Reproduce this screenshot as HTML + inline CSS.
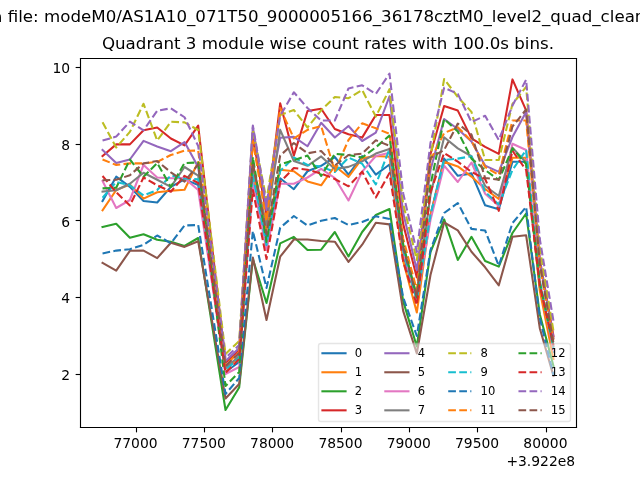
<!DOCTYPE html>
<html><head><meta charset="utf-8"><title>plot</title>
<style>html,body{margin:0;padding:0;background:#fff;overflow:hidden}svg{display:block;will-change:transform}text{font-family:"DejaVu Sans","Liberation Sans",sans-serif}</style>
</head><body>
<svg  width="640" height="480" viewBox="0 0 460.8 345.6" version="1.1">
 
 <defs>
  <style type="text/css">*{stroke-linejoin: round; stroke-linecap: butt}</style>
 </defs>
 <g id="figure_1">
  <g id="patch_1">
   <path d="M 0 345.6 
L 460.8 345.6 
L 460.8 0 
L 0 0 
z
" style="fill: #ffffff"/>
  </g>
  <g id="axes_1">
   <g id="patch_2">
    <path d="M 57.6 307.584 
L 414.72 307.584 
L 414.72 41.472 
L 57.6 41.472 
z
" style="fill: #ffffff"/>
   </g>
   <g id="matplotlib.axis_1">
    <g id="xtick_1">
     <g id="line2d_1">
      
      <g>
       <path d="M 98.2800 307.8000 l 0 3.5" style="fill: none; stroke: #000000; stroke-width: 0.8"/>
      </g>
     </g>
     <g id="text_1">
      <text style="font-size: 10px; font-family: 'DejaVu Sans', sans-serif; text-anchor: middle" x="97.5598" y="322.9024">77000</text>
     </g>
    </g>
    <g id="xtick_2">
     <g id="line2d_2">
      <g>
       <path d="M 147.2400 307.8000 l 0 3.5" style="fill: none; stroke: #000000; stroke-width: 0.8"/>
      </g>
     </g>
     <g id="text_2">
      <text style="font-size: 10px; font-family: 'DejaVu Sans', sans-serif; text-anchor: middle" x="146.7498" y="322.9024">77500</text>
     </g>
    </g>
    <g id="xtick_3">
     <g id="line2d_3">
      <g>
       <path d="M 196.2000 307.8000 l 0 3.5" style="fill: none; stroke: #000000; stroke-width: 0.8"/>
      </g>
     </g>
     <g id="text_3">
      <text style="font-size: 10px; font-family: 'DejaVu Sans', sans-serif; text-anchor: middle" x="195.9399" y="322.9024">78000</text>
     </g>
    </g>
    <g id="xtick_4">
     <g id="line2d_4">
      <g>
       <path d="M 245.8800 307.8000 l 0 3.5" style="fill: none; stroke: #000000; stroke-width: 0.8"/>
      </g>
     </g>
     <g id="text_4">
      <text style="font-size: 10px; font-family: 'DejaVu Sans', sans-serif; text-anchor: middle" x="245.1300" y="322.9024">78500</text>
     </g>
    </g>
    <g id="xtick_5">
     <g id="line2d_5">
      <g>
       <path d="M 294.8400 307.8000 l 0 3.5" style="fill: none; stroke: #000000; stroke-width: 0.8"/>
      </g>
     </g>
     <g id="text_5">
      <text style="font-size: 10px; font-family: 'DejaVu Sans', sans-serif; text-anchor: middle" x="294.3201" y="322.9024">79000</text>
     </g>
    </g>
    <g id="xtick_6">
     <g id="line2d_6">
      <g>
       <path d="M 343.8000 307.8000 l 0 3.5" style="fill: none; stroke: #000000; stroke-width: 0.8"/>
      </g>
     </g>
     <g id="text_6">
      <text style="font-size: 10px; font-family: 'DejaVu Sans', sans-serif; text-anchor: middle" x="343.5102" y="322.9024">79500</text>
     </g>
    </g>
    <g id="xtick_7">
     <g id="line2d_7">
      <g>
       <path d="M 393.4800 307.8000 l 0 3.5" style="fill: none; stroke: #000000; stroke-width: 0.8"/>
      </g>
     </g>
     <g id="text_7">
      <text style="font-size: 10px; font-family: 'DejaVu Sans', sans-serif; text-anchor: middle" x="392.7003" y="322.9024">80000</text>
     </g>
    </g>
    <g id="text_8">
     <text style="font-size: 10px; font-family: 'DejaVu Sans', sans-serif; text-anchor: end" x="414.0720" y="335.5806">+3.922e8</text>
    </g>
   </g>
   <g id="matplotlib.axis_2">
    <g id="ytick_1">
     <g id="line2d_8">
      
      <g>
       <path d="M 57.9600 269.6400 l -3.5 0" style="fill: none; stroke: #000000; stroke-width: 0.8"/>
      </g>
     </g>
     <g id="text_9">
      <text style="font-size: 10px; font-family: 'DejaVu Sans', sans-serif; text-anchor: end" x="50.5280" y="273.6552">2</text>
     </g>
    </g>
    <g id="ytick_2">
     <g id="line2d_9">
      <g>
       <path d="M 57.9600 214.2000 l -3.5 0" style="fill: none; stroke: #000000; stroke-width: 0.8"/>
      </g>
     </g>
     <g id="text_10">
      <text style="font-size: 10px; font-family: 'DejaVu Sans', sans-serif; text-anchor: end" x="50.5280" y="218.3952">4</text>
     </g>
    </g>
    <g id="ytick_3">
     <g id="line2d_10">
      <g>
       <path d="M 57.9600 158.7600 l -3.5 0" style="fill: none; stroke: #000000; stroke-width: 0.8"/>
      </g>
     </g>
     <g id="text_11">
      <text style="font-size: 10px; font-family: 'DejaVu Sans', sans-serif; text-anchor: end" x="50.5280" y="163.1352">6</text>
     </g>
    </g>
    <g id="ytick_4">
     <g id="line2d_11">
      <g>
       <path d="M 57.9600 104.0400 l -3.5 0" style="fill: none; stroke: #000000; stroke-width: 0.8"/>
      </g>
     </g>
     <g id="text_12">
      <text style="font-size: 10px; font-family: 'DejaVu Sans', sans-serif; text-anchor: end" x="50.5280" y="107.8752">8</text>
     </g>
    </g>
    <g id="ytick_5">
     <g id="line2d_12">
      <g>
       <path d="M 57.9600 48.6000 l -3.5 0" style="fill: none; stroke: #000000; stroke-width: 0.8"/>
      </g>
     </g>
     <g id="text_13">
      <text style="font-size: 10px; font-family: 'DejaVu Sans', sans-serif; text-anchor: end" x="50.5280" y="52.6152">10</text>
     </g>
    </g>
   </g>
   <g id="line2d_13">
    <path d="M 73.832727 144.72 
L 83.670744 127.224 
L 93.50876 134.568 
L 103.346777 144.72 
L 113.184793 145.8 
L 123.02281 134.568 
L 132.860826 129.168 
L 142.698843 133.2 
L 162.374876 267.84 
L 172.212893 260.64 
L 182.050909 129.6 
L 191.888926 172.8 
L 201.726942 128.376 
L 211.564959 136.224 
L 221.402975 123.3 
L 231.240992 119.376 
L 241.079008 113.04 
L 250.917025 125.784 
L 260.755041 112.32 
L 270.593058 125.784 
L 280.431074 118.44 
L 290.269091 183.8052 
L 300.107107 216 
L 309.945124 154.8 
L 319.78314 114.192 
L 329.621157 126.576 
L 339.459174 124.848 
L 349.29719 147.816 
L 359.135207 150.624 
L 368.973223 116.424 
L 378.81124 116.424 
L 388.649256 206.85456 
L 398.487273 253.44 
" clip-path="url(#p02d3b5d28d)" style="fill: none; stroke: #1f77b4; stroke-width: 1.5; stroke-linecap: square"/>
   </g>
   <g id="line2d_14">
    <path d="M 73.832727 151.416 
L 83.670744 136.8 
L 93.50876 132.84 
L 103.346777 142.992 
L 113.184793 138.456 
L 123.02281 137.376 
L 132.860826 136.584 
L 142.698843 116.64 
L 162.374876 265.68 
L 172.212893 257.04 
L 182.050909 123.84 
L 191.888926 165.6 
L 201.726942 122.184 
L 211.564959 123.3 
L 221.402975 130.608 
L 231.240992 133.416 
L 241.079008 119.52 
L 250.917025 127.44 
L 260.755041 113.976 
L 270.593058 112.32 
L 280.431074 112.824 
L 290.269091 187.98192 
L 300.107107 225 
L 309.945124 154.8 
L 319.78314 116.424 
L 329.621157 119.808 
L 339.459174 127.152 
L 349.29719 136.08 
L 359.135207 143.28 
L 368.973223 113.616 
L 378.81124 113.616 
L 388.649256 209.22624 
L 398.487273 258.48 
" clip-path="url(#p02d3b5d28d)" style="fill: none; stroke: #ff7f0e; stroke-width: 1.5; stroke-linecap: square"/>
   </g>
   <g id="line2d_15">
    <path d="M 73.832727 163.368 
L 83.670744 161.1 
L 93.50876 171.216 
L 103.346777 168.624 
L 113.184793 172.584 
L 123.02281 174.096 
L 132.860826 177.048 
L 142.698843 171.36 
L 162.374876 295.2 
L 172.212893 279 
L 182.050909 186.48 
L 191.888926 218.16 
L 201.726942 175.248 
L 211.564959 170.568 
L 221.402975 180 
L 231.240992 179.784 
L 241.079008 167.04 
L 250.917025 184.608 
L 260.755041 167.04 
L 270.593058 154.8 
L 280.431074 150.48 
L 290.269091 216.81 
L 300.107107 249.48 
L 309.945124 181.44 
L 319.78314 157.968 
L 329.621157 187.2 
L 339.459174 170.496 
L 349.29719 187.92 
L 359.135207 191.952 
L 368.973223 167.76 
L 378.81124 153.72 
L 388.649256 226.188 
L 398.487273 263.52 
" clip-path="url(#p02d3b5d28d)" style="fill: none; stroke: #2ca02c; stroke-width: 1.5; stroke-linecap: square"/>
   </g>
   <g id="line2d_16">
    <path d="M 73.832727 112.32 
L 83.670744 103.968 
L 93.50876 103.968 
L 103.346777 93.816 
L 113.184793 91.8 
L 123.02281 99.72 
L 132.860826 104.688 
L 142.698843 90.504 
L 162.374876 261.36 
L 172.212893 252 
L 182.050909 98.64 
L 191.888926 154.8 
L 201.726942 74.376 
L 211.564959 112.032 
L 221.402975 79.92 
L 231.240992 78.3 
L 241.079008 92.88 
L 250.917025 96.696 
L 260.755041 99.072 
L 270.593058 82.8 
L 280.431074 82.8 
L 290.269091 161.19 
L 300.107107 199.8 
L 309.945124 110.88 
L 319.78314 76.32 
L 329.621157 79.632 
L 339.459174 99.648 
L 349.29719 105.768 
L 359.135207 110.808 
L 368.973223 57.168 
L 378.81124 79.416 
L 388.649256 186.66864 
L 398.487273 241.92 
" clip-path="url(#p02d3b5d28d)" style="fill: none; stroke: #d62728; stroke-width: 1.5; stroke-linecap: square"/>
   </g>
   <g id="line2d_17">
    <path d="M 73.832727 108 
L 83.670744 117.36 
L 93.50876 114.84 
L 103.346777 101.448 
L 113.184793 105.48 
L 123.02281 108.864 
L 132.860826 102.312 
L 142.698843 120.24 
L 162.374876 259.92 
L 172.212893 250.56 
L 182.050909 91.44 
L 191.888926 151.2 
L 201.726942 99.144 
L 211.564959 98.568 
L 221.402975 105.3 
L 231.240992 88.416 
L 241.079008 99 
L 250.917025 90.72 
L 260.755041 101.52 
L 270.593058 95.544 
L 280.431074 69.3 
L 290.269091 153.117 
L 300.107107 194.4 
L 309.945124 122.4 
L 319.78314 85.68 
L 329.621157 92.88 
L 339.459174 101.808 
L 349.29719 119.232 
L 359.135207 123.768 
L 368.973223 98.64 
L 378.81124 80.568 
L 388.649256 188.01072 
L 398.487273 243.36 
" clip-path="url(#p02d3b5d28d)" style="fill: none; stroke: #9467bd; stroke-width: 1.5; stroke-linecap: square"/>
   </g>
   <g id="line2d_18">
    <path d="M 73.832727 189.216 
L 83.670744 194.832 
L 93.50876 180.576 
L 103.346777 180.432 
L 113.184793 185.832 
L 123.02281 174.744 
L 132.860826 177.768 
L 142.698843 173.7 
L 162.374876 286.92 
L 172.212893 276.48 
L 182.050909 185.4 
L 191.888926 230.4 
L 201.726942 184.824 
L 211.564959 172.44 
L 221.402975 172.44 
L 231.240992 173.52 
L 241.079008 174.024 
L 250.917025 188.568 
L 260.755041 176.184 
L 270.593058 160.416 
L 280.431074 161.568 
L 290.269091 223.84584 
L 300.107107 254.52 
L 309.945124 198 
L 319.78314 160.2 
L 329.621157 165.888 
L 339.459174 181.296 
L 349.29719 192.456 
L 359.135207 205.416 
L 368.973223 170.496 
L 378.81124 169.416 
L 388.649256 236.27664 
L 398.487273 270.72 
" clip-path="url(#p02d3b5d28d)" style="fill: none; stroke: #8c564b; stroke-width: 1.5; stroke-linecap: square"/>
   </g>
   <g id="line2d_19">
    <path d="M 73.832727 130.32 
L 83.670744 149.76 
L 93.50876 144 
L 103.346777 118.8 
L 113.184793 127.8 
L 123.02281 128.304 
L 132.860826 128.232 
L 142.698843 136.8 
L 162.374876 269.28 
L 172.212893 264.24 
L 182.050909 131.04 
L 191.888926 180 
L 201.726942 132.3 
L 211.564959 132.3 
L 221.402975 127.8 
L 231.240992 121.608 
L 241.079008 128.16 
L 250.917025 144.36 
L 260.755041 123.552 
L 270.593058 112.32 
L 280.431074 110.016 
L 290.269091 181.02528 
L 300.107107 216 
L 309.945124 158.4 
L 319.78314 119.232 
L 329.621157 131.04 
L 339.459174 117 
L 349.29719 139.5 
L 359.135207 148.32 
L 368.973223 103.5 
L 378.81124 108 
L 388.649256 203.04 
L 398.487273 252 
" clip-path="url(#p02d3b5d28d)" style="fill: none; stroke: #e377c2; stroke-width: 1.5; stroke-linecap: square"/>
   </g>
   <g id="line2d_20">
    <path d="M 73.832727 137.952 
L 83.670744 137.016 
L 93.50876 132.3 
L 103.346777 124.416 
L 113.184793 129.456 
L 123.02281 134.568 
L 132.860826 120.24 
L 142.698843 126.432 
L 162.374876 264.96 
L 172.212893 256.32 
L 182.050909 118.8 
L 191.888926 162 
L 201.726942 93.456 
L 211.564959 115.92 
L 221.402975 119.376 
L 231.240992 112.608 
L 241.079008 121.68 
L 250.917025 120.168 
L 260.755041 116.208 
L 270.593058 110.592 
L 280.431074 107.208 
L 290.269091 177.68664 
L 300.107107 212.4 
L 309.945124 140.4 
L 319.78314 98.856 
L 329.621157 106.848 
L 339.459174 112.5 
L 349.29719 133.92 
L 359.135207 141.12 
L 368.973223 106.344 
L 378.81124 117 
L 388.649256 204.1992 
L 398.487273 249.12 
" clip-path="url(#p02d3b5d28d)" style="fill: none; stroke: #7f7f7f; stroke-width: 1.5; stroke-linecap: square"/>
   </g>
   <g id="line2d_21">
    <path d="M 73.832727 88.056 
L 83.670744 106.2 
L 93.50876 94.968 
L 103.346777 74.7 
L 113.184793 101.16 
L 123.02281 87.696 
L 132.860826 88.128 
L 142.698843 93.6 
L 162.374876 254.88 
L 172.212893 245.52 
L 182.050909 93.6 
L 191.888926 144 
L 201.726942 82.8 
L 211.564959 79.2 
L 221.402975 91.8 
L 231.240992 79.416 
L 241.079008 69.84 
L 250.917025 70.704 
L 260.755041 64.8 
L 270.593058 83.952 
L 280.431074 64.224 
L 290.269091 146.61792 
L 300.107107 187.2 
L 309.945124 113.04 
L 319.78314 56.88 
L 329.621157 69.84 
L 339.459174 80.568 
L 349.29719 115.2 
L 359.135207 115.2 
L 368.973223 74.88 
L 378.81124 62.568 
L 388.649256 178.56432 
L 398.487273 238.32 
" clip-path="url(#p02d3b5d28d)" style="fill: none; stroke-dasharray: 5.55,2.4; stroke-dashoffset: 0; stroke: #bcbd22; stroke-width: 1.5"/>
   </g>
   <g id="line2d_22">
    <path d="M 73.832727 142.416 
L 83.670744 131.04 
L 93.50876 133.416 
L 103.346777 140.76 
L 113.184793 136.8 
L 123.02281 126.288 
L 132.860826 128.52 
L 142.698843 129.168 
L 162.374876 266.4 
L 172.212893 257.76 
L 182.050909 126 
L 191.888926 176.4 
L 201.726942 123.12 
L 211.564959 113.4 
L 221.402975 118.8 
L 231.240992 119.952 
L 241.079008 123.84 
L 250.917025 113.4 
L 260.755041 117.9 
L 270.593058 132.84 
L 280.431074 107.28 
L 290.269091 180.1224 
L 300.107107 216 
L 309.945124 154.8 
L 319.78314 115.2 
L 329.621157 114.192 
L 339.459174 112.5 
L 349.29719 138.24 
L 359.135207 147.24 
L 368.973223 122.4 
L 378.81124 108 
L 388.649256 202.0896 
L 398.487273 250.56 
" clip-path="url(#p02d3b5d28d)" style="fill: none; stroke-dasharray: 5.55,2.4; stroke-dashoffset: 0; stroke: #17becf; stroke-width: 1.5"/>
   </g>
   <g id="line2d_23">
    <path d="M 73.832727 182.448 
L 83.670744 180.432 
L 93.50876 179.424 
L 103.346777 176.256 
L 113.184793 169.56 
L 123.02281 175.104 
L 132.860826 162.36 
L 142.698843 162 
L 162.374876 283.68 
L 172.212893 272.16 
L 182.050909 166.32 
L 191.888926 207.36 
L 201.726942 164.016 
L 211.564959 155.52 
L 221.402975 162.36 
L 231.240992 158.976 
L 241.079008 156.96 
L 250.917025 162 
L 260.755041 159.84 
L 270.593058 155.7 
L 280.431074 157.68 
L 290.269091 214.1208 
L 300.107107 241.92 
L 309.945124 180 
L 319.78314 153.36 
L 329.621157 146.16 
L 339.459174 164.808 
L 349.29719 165.96 
L 359.135207 191.448 
L 368.973223 160.56 
L 378.81124 149.04 
L 388.649256 228.8736 
L 398.487273 270 
" clip-path="url(#p02d3b5d28d)" style="fill: none; stroke-dasharray: 5.55,2.4; stroke-dashoffset: 0; stroke: #1f77b4; stroke-width: 1.5"/>
   </g>
   <g id="line2d_24">
    <path d="M 73.832727 114.84 
L 83.670744 118.8 
L 93.50876 117.648 
L 103.346777 117.648 
L 113.184793 116.568 
L 123.02281 111.6 
L 132.860826 108.504 
L 142.698843 108.432 
L 162.374876 262.8 
L 172.212893 253.44 
L 182.050909 101.52 
L 191.888926 159.12 
L 201.726942 77.76 
L 211.564959 99.648 
L 221.402975 93.456 
L 231.240992 90.72 
L 241.079008 123.12 
L 250.917025 100.8 
L 260.755041 88.776 
L 270.593058 92.376 
L 280.431074 96.3 
L 290.269091 171.675 
L 300.107107 208.8 
L 309.945124 115.2 
L 319.78314 95.76 
L 329.621157 91.656 
L 339.459174 101.52 
L 349.29719 120.24 
L 359.135207 126 
L 368.973223 86.76 
L 378.81124 86.76 
L 388.649256 191.0664 
L 398.487273 244.8 
" clip-path="url(#p02d3b5d28d)" style="fill: none; stroke-dasharray: 5.55,2.4; stroke-dashoffset: 0; stroke: #ff7f0e; stroke-width: 1.5"/>
   </g>
   <g id="line2d_25">
    <path d="M 73.832727 135.648 
L 83.670744 135.144 
L 93.50876 114.84 
L 103.346777 127.224 
L 113.184793 117.36 
L 123.02281 134.568 
L 132.860826 117.36 
L 142.698843 117 
L 162.374876 277.92 
L 172.212893 267.84 
L 182.050909 113.04 
L 191.888926 174.24 
L 201.726942 118.44 
L 211.564959 115.416 
L 221.402975 112.032 
L 231.240992 126.72 
L 241.079008 110.736 
L 250.917025 111.6 
L 260.755041 113.4 
L 270.593058 106.056 
L 280.431074 97.632 
L 290.269091 175.73256 
L 300.107107 214.2 
L 309.945124 133.2 
L 319.78314 85.68 
L 329.621157 94.68 
L 339.459174 114.192 
L 349.29719 122.4 
L 359.135207 129.6 
L 368.973223 106.848 
L 378.81124 118.08 
L 388.649256 204.0912 
L 398.487273 248.4 
" clip-path="url(#p02d3b5d28d)" style="fill: none; stroke-dasharray: 5.55,2.4; stroke-dashoffset: 0; stroke: #2ca02c; stroke-width: 1.5"/>
   </g>
   <g id="line2d_26">
    <path d="M 73.832727 126.72 
L 83.670744 138.456 
L 93.50876 147.96 
L 103.346777 127.8 
L 113.184793 133.416 
L 123.02281 138.024 
L 132.860826 126.576 
L 142.698843 131.76 
L 162.374876 268.56 
L 172.212893 258.48 
L 182.050909 136.8 
L 191.888926 186.48 
L 201.726942 131.04 
L 211.564959 120.96 
L 221.402975 122.184 
L 231.240992 124.992 
L 241.079008 128.88 
L 250.917025 134.136 
L 260.755041 123.552 
L 270.593058 142.2 
L 280.431074 124.56 
L 290.269091 188.2368 
L 300.107107 219.6 
L 309.945124 138.24 
L 319.78314 110.16 
L 329.621157 116.424 
L 339.459174 123.768 
L 349.29719 128.88 
L 359.135207 151.776 
L 368.973223 108.576 
L 378.81124 122.4 
L 388.649256 205.56 
L 398.487273 248.4 
" clip-path="url(#p02d3b5d28d)" style="fill: none; stroke-dasharray: 5.55,2.4; stroke-dashoffset: 0; stroke: #d62728; stroke-width: 1.5"/>
   </g>
   <g id="line2d_27">
    <path d="M 73.832727 101.16 
L 83.670744 98.352 
L 93.50876 87.624 
L 103.346777 93.816 
L 113.184793 79.776 
L 123.02281 77.976 
L 132.860826 84.42 
L 142.698843 105.12 
L 162.374876 257.76 
L 172.212893 248.4 
L 182.050909 90.36 
L 191.888926 147.6 
L 201.726942 83.376 
L 211.564959 66.456 
L 221.402975 77.76 
L 231.240992 86.76 
L 241.079008 86.76 
L 250.917025 63.648 
L 260.755041 61.416 
L 270.593058 67.608 
L 280.431074 52.992 
L 290.269091 139.05216 
L 300.107107 181.44 
L 309.945124 102.96 
L 319.78314 63.144 
L 329.621157 67.608 
L 339.459174 87.84 
L 349.29719 83.376 
L 359.135207 100.8 
L 368.973223 76.032 
L 378.81124 57.456 
L 388.649256 172.07424 
L 398.487273 231.12 
" clip-path="url(#p02d3b5d28d)" style="fill: none; stroke-dasharray: 5.55,2.4; stroke-dashoffset: 0; stroke: #9467bd; stroke-width: 1.5"/>
   </g>
   <g id="line2d_28">
    <path d="M 73.832727 129.816 
L 83.670744 129.456 
L 93.50876 126.144 
L 103.346777 117.648 
L 113.184793 115.92 
L 123.02281 124.056 
L 132.860826 130.752 
L 142.698843 118.368 
L 162.374876 263.52 
L 172.212893 254.16 
L 182.050909 117.36 
L 191.888926 168.48 
L 201.726942 112.032 
L 211.564959 102.96 
L 221.402975 110.376 
L 231.240992 108.72 
L 241.079008 119.16 
L 250.917025 111.6 
L 260.755041 110.592 
L 270.593058 101.016 
L 280.431074 104.976 
L 290.269091 177.91488 
L 300.107107 213.84 
L 309.945124 113.616 
L 319.78314 108 
L 329.621157 88.992 
L 339.459174 96.84 
L 349.29719 128.16 
L 359.135207 129.384 
L 368.973223 91.152 
L 378.81124 78.84 
L 388.649256 189.7992 
L 398.487273 246.96 
" clip-path="url(#p02d3b5d28d)" style="fill: none; stroke-dasharray: 5.55,2.4; stroke-dashoffset: 0; stroke: #8c564b; stroke-width: 1.5"/>
   </g>
   <g id="patch_3">
    <path d="M 57.9600 307.8000 
L 57.9600 42.1200 
" style="fill: none; stroke: #000000; stroke-width: 0.8; stroke-linejoin: miter; stroke-linecap: square"/>
   </g>
   <g id="patch_4">
    <path d="M 415.0800 307.8000 
L 415.0800 42.1200 
" style="fill: none; stroke: #000000; stroke-width: 0.8; stroke-linejoin: miter; stroke-linecap: square"/>
   </g>
   <g id="patch_5">
    <path d="M 57.9600 307.8000 
L 415.0800 307.8000 
" style="fill: none; stroke: #000000; stroke-width: 0.8; stroke-linejoin: miter; stroke-linecap: square"/>
   </g>
   <g id="patch_6">
    <path d="M 57.9600 42.1200 
L 415.0800 42.1200 
" style="fill: none; stroke: #000000; stroke-width: 0.8; stroke-linejoin: miter; stroke-linecap: square"/>
   </g>
   <g id="text_14">
    <text style="font-size: 12px; font-family: 'DejaVu Sans', sans-serif; text-anchor: middle" x="236.1600" y="35.4720">Quadrant 3 module wise count rates with 100.0s bins.</text>
   </g>
   <g id="legend_1">
    <g id="patch_7">
     <path d="M 230.9860 303.4800 
L 409.0940 303.4800 
Q 410.7600 303.4800 410.7600 301.8140 
L 410.7600 248.9860 
Q 410.7600 247.3200 409.0940 247.3200 
L 230.9860 247.3200 
Q 229.3200 247.3200 229.3200 248.9860 
L 229.3200 301.8140 
Q 229.3200 303.4800 230.9860 303.4800 
z
" style="fill: #ffffff; opacity: 0.5; stroke: #cccccc; stroke-linejoin: miter"/>
    </g>
    <g id="line2d_29">
     <path d="M 232.147225 254.335256 
L 240.477225 254.335256 
L 248.807225 254.335256 
" style="fill: none; stroke: #1f77b4; stroke-width: 1.5; stroke-linecap: square"/>
    </g>
    <g id="text_15">
     <text style="font-size: 8.33px; font-family: 'DejaVu Sans', sans-serif; text-anchor: start" x="255.4712" y="257.2508">0</text>
    </g>
    <g id="line2d_30">
     <path d="M 232.147225 268.036544 
L 240.477225 268.036544 
L 248.807225 268.036544 
" style="fill: none; stroke: #ff7f0e; stroke-width: 1.5; stroke-linecap: square"/>
    </g>
    <g id="text_16">
     <text style="font-size: 8.33px; font-family: 'DejaVu Sans', sans-serif; text-anchor: start" x="255.4712" y="270.9520">1</text>
    </g>
    <g id="line2d_31">
     <path d="M 232.147225 281.737832 
L 240.477225 281.737832 
L 248.807225 281.737832 
" style="fill: none; stroke: #2ca02c; stroke-width: 1.5; stroke-linecap: square"/>
    </g>
    <g id="text_17">
     <text style="font-size: 8.33px; font-family: 'DejaVu Sans', sans-serif; text-anchor: start" x="255.4712" y="284.6533">2</text>
    </g>
    <g id="line2d_32">
     <path d="M 232.147225 295.43912 
L 240.477225 295.43912 
L 248.807225 295.43912 
" style="fill: none; stroke: #d62728; stroke-width: 1.5; stroke-linecap: square"/>
    </g>
    <g id="text_18">
     <text style="font-size: 8.33px; font-family: 'DejaVu Sans', sans-serif; text-anchor: start" x="255.4712" y="298.3546">3</text>
    </g>
    <g id="line2d_33">
     <path d="M 277.431188 254.335256 
L 285.761188 254.335256 
L 294.091188 254.335256 
" style="fill: none; stroke: #9467bd; stroke-width: 1.5; stroke-linecap: square"/>
    </g>
    <g id="text_19">
     <text style="font-size: 8.33px; font-family: 'DejaVu Sans', sans-serif; text-anchor: start" x="300.7552" y="257.2508">4</text>
    </g>
    <g id="line2d_34">
     <path d="M 277.431188 268.036544 
L 285.761188 268.036544 
L 294.091188 268.036544 
" style="fill: none; stroke: #8c564b; stroke-width: 1.5; stroke-linecap: square"/>
    </g>
    <g id="text_20">
     <text style="font-size: 8.33px; font-family: 'DejaVu Sans', sans-serif; text-anchor: start" x="300.7552" y="270.9520">5</text>
    </g>
    <g id="line2d_35">
     <path d="M 277.431188 281.737832 
L 285.761188 281.737832 
L 294.091188 281.737832 
" style="fill: none; stroke: #e377c2; stroke-width: 1.5; stroke-linecap: square"/>
    </g>
    <g id="text_21">
     <text style="font-size: 8.33px; font-family: 'DejaVu Sans', sans-serif; text-anchor: start" x="300.7552" y="284.6533">6</text>
    </g>
    <g id="line2d_36">
     <path d="M 277.431188 295.43912 
L 285.761188 295.43912 
L 294.091188 295.43912 
" style="fill: none; stroke: #7f7f7f; stroke-width: 1.5; stroke-linecap: square"/>
    </g>
    <g id="text_22">
     <text style="font-size: 8.33px; font-family: 'DejaVu Sans', sans-serif; text-anchor: start" x="300.7552" y="298.3546">7</text>
    </g>
    <g id="line2d_37">
     <path d="M 322.71515 254.335256 
L 331.04515 254.335256 
L 339.37515 254.335256 
" style="fill: none; stroke-dasharray: 5.55,2.4; stroke-dashoffset: 0; stroke: #bcbd22; stroke-width: 1.5"/>
    </g>
    <g id="text_23">
     <text style="font-size: 8.33px; font-family: 'DejaVu Sans', sans-serif; text-anchor: start" x="346.0392" y="257.2508">8</text>
    </g>
    <g id="line2d_38">
     <path d="M 322.71515 268.036544 
L 331.04515 268.036544 
L 339.37515 268.036544 
" style="fill: none; stroke-dasharray: 5.55,2.4; stroke-dashoffset: 0; stroke: #17becf; stroke-width: 1.5"/>
    </g>
    <g id="text_24">
     <text style="font-size: 8.33px; font-family: 'DejaVu Sans', sans-serif; text-anchor: start" x="346.0392" y="270.9520">9</text>
    </g>
    <g id="line2d_39">
     <path d="M 322.71515 281.737832 
L 331.04515 281.737832 
L 339.37515 281.737832 
" style="fill: none; stroke-dasharray: 5.55,2.4; stroke-dashoffset: 0; stroke: #1f77b4; stroke-width: 1.5"/>
    </g>
    <g id="text_25">
     <text style="font-size: 8.33px; font-family: 'DejaVu Sans', sans-serif; text-anchor: start" x="346.0392" y="284.6533">10</text>
    </g>
    <g id="line2d_40">
     <path d="M 322.71515 295.43912 
L 331.04515 295.43912 
L 339.37515 295.43912 
" style="fill: none; stroke-dasharray: 5.55,2.4; stroke-dashoffset: 0; stroke: #ff7f0e; stroke-width: 1.5"/>
    </g>
    <g id="text_26">
     <text style="font-size: 8.33px; font-family: 'DejaVu Sans', sans-serif; text-anchor: start" x="346.0392" y="298.3546">11</text>
    </g>
    <g id="line2d_41">
     <path d="M 373.299075 254.335256 
L 381.629075 254.335256 
L 389.959075 254.335256 
" style="fill: none; stroke-dasharray: 5.55,2.4; stroke-dashoffset: 0; stroke: #2ca02c; stroke-width: 1.5"/>
    </g>
    <g id="text_27">
     <text style="font-size: 8.33px; font-family: 'DejaVu Sans', sans-serif; text-anchor: start" x="396.6231" y="257.2508">12</text>
    </g>
    <g id="line2d_42">
     <path d="M 373.299075 268.036544 
L 381.629075 268.036544 
L 389.959075 268.036544 
" style="fill: none; stroke-dasharray: 5.55,2.4; stroke-dashoffset: 0; stroke: #d62728; stroke-width: 1.5"/>
    </g>
    <g id="text_28">
     <text style="font-size: 8.33px; font-family: 'DejaVu Sans', sans-serif; text-anchor: start" x="396.6231" y="270.9520">13</text>
    </g>
    <g id="line2d_43">
     <path d="M 373.299075 281.737832 
L 381.629075 281.737832 
L 389.959075 281.737832 
" style="fill: none; stroke-dasharray: 5.55,2.4; stroke-dashoffset: 0; stroke: #9467bd; stroke-width: 1.5"/>
    </g>
    <g id="text_29">
     <text style="font-size: 8.33px; font-family: 'DejaVu Sans', sans-serif; text-anchor: start" x="396.6231" y="284.6533">14</text>
    </g>
    <g id="line2d_44">
     <path d="M 373.299075 295.43912 
L 381.629075 295.43912 
L 389.959075 295.43912 
" style="fill: none; stroke-dasharray: 5.55,2.4; stroke-dashoffset: 0; stroke: #8c564b; stroke-width: 1.5"/>
    </g>
    <g id="text_30">
     <text style="font-size: 8.33px; font-family: 'DejaVu Sans', sans-serif; text-anchor: start" x="396.6231" y="298.3546">15</text>
    </g>
   </g>
  </g>
  <g id="text_31">
   <text style="font-size: 12px; font-family: 'DejaVu Sans', sans-serif; text-anchor: middle" x="230.4000" y="16.0301">Data file: modeM0/AS1A10_071T50_9000005166_36178cztM0_level2_quad_clean.evt</text>
  </g>
 </g>
 <defs>
  <clipPath id="p02d3b5d28d">
   <rect x="57.6" y="41.472" width="357.12" height="266.112"/>
  </clipPath>
 </defs>
</svg>

</body></html>
